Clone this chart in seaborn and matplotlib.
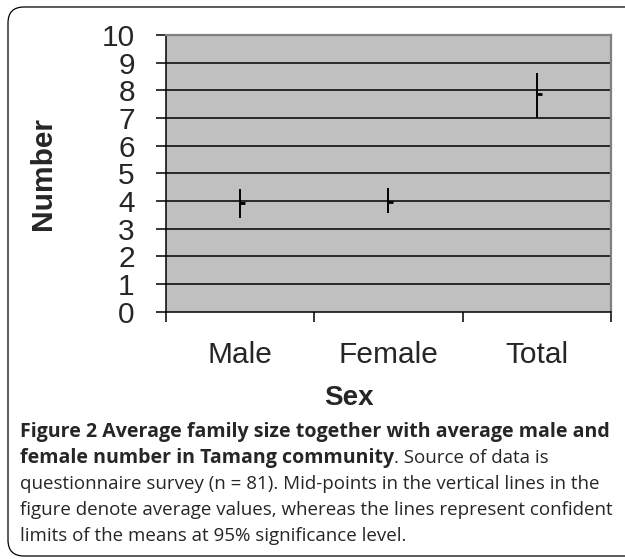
import matplotlib
matplotlib.use("Agg")
import matplotlib.pyplot as plt
from matplotlib.patches import FancyBboxPatch
import seaborn as sns
import pandas as pd

# ---- data ----
categories = ["Male", "Female", "Total"]
means = [3.94, 3.97, 7.86]
lower = [3.38, 3.57, 7.01]
upper = [4.42, 4.47, 8.64]
y_ticks = list(range(0, 11))
x_label = "Sex"
y_label = "Number"
caption_bold_1 = "Figure 2 Average family size together with average male and"
caption_bold_2 = "female number in Tamang community"
caption_rest_2 = ". Source of data is"
caption_lines = [
    "questionnaire survey (n = 81). Mid-points in the vertical lines in the",
    "figure denote average values, whereas the lines represent confident",
    "limits of the means at 95% significance level.",
]

df = pd.DataFrame({"Sex": categories, "mean": means, "lo": lower, "hi": upper})

sns.set_style("white")
plt.rcParams["font.family"] = ["Liberation Sans", "DejaVu Sans"]

W, H = 625, 559
fig = plt.figure(figsize=(W / 100, H / 100), dpi=100)
fig.patch.set_facecolor("white")

# rounded panel frame
frame = FancyBboxPatch((0.08, 0.03), 6.6, 5.49,
                       boxstyle="round,pad=0,rounding_size=0.16",
                       transform=fig.dpi_scale_trans, fill=False,
                       edgecolor="black", linewidth=0.9, zorder=0)
fig.patches.append(frame)

ax_l, ax_r, ax_t, ax_b = 165.7, 611.0, 35.0, 311.7
ax = fig.add_axes([ax_l / W, 1 - ax_b / H, (ax_r - ax_l) / W, (ax_b - ax_t) / H])
ax.set_facecolor("#C0C0C0")

# grid lines
for v in y_ticks[1:-1]:
    ax.axhline(v, color="black", linewidth=1.1, zorder=1)

# confidence ranges
ax.vlines(x=range(len(categories)), ymin=df["lo"], ymax=df["hi"],
          color="black", linewidth=1.4, zorder=3)
# means (right tick, like Excel high-low-close)
sns.scatterplot(data=df, x="Sex", y="mean", marker=1, s=14, color="black",
                linewidth=2.0, ax=ax, zorder=4, legend=False)

ax.set_xlim(-0.5, len(categories) - 0.5)
ax.set_ylim(0, 10)

# spines
for s in ["left", "bottom"]:
    ax.spines[s].set_color("black")
    ax.spines[s].set_linewidth(1.1)
for s in ["top", "right"]:
    ax.spines[s].set_color("#808080")
    ax.spines[s].set_linewidth(1.6)
ax.spines["bottom"].set_zorder(5)

# y ticks
ax.set_yticks(y_ticks)
ax.set_yticklabels([str(v) for v in y_ticks])
ax.tick_params(axis="y", direction="out", length=7.2, width=1.1, color="black",
               pad=15, labelsize=21.5, left=True)

# x ticks: separators as major ticks, labels on minor ticks
ax.set_xticks([i - 0.5 for i in range(len(categories) + 1)])
ax.set_xticklabels([""] * (len(categories) + 1))
ax.set_xticks(range(len(categories)), minor=True)
ax.set_xticklabels(categories, minor=True)
ax.tick_params(axis="x", which="major", direction="out", length=7.2, width=1.1,
               color="black", bottom=True)
ax.tick_params(axis="x", which="minor", length=0, pad=21, labelsize=21.5)

ax.set_xlabel(x_label, fontsize=20, fontweight="bold")
ax.xaxis.label.set_va("center")
ax.xaxis.set_label_coords((348.5 - ax_l) / (ax_r - ax_l), (ax_b - 398) / (ax_b - ax_t))
ax.set_ylabel(y_label, fontsize=21.5, fontweight="bold")
ax.yaxis.label.set_va("center")
ax.yaxis.set_label_coords((43 - ax_l) / (ax_r - ax_l), 0.5)

# caption
cap_font = ["Open Sans", "DejaVu Sans"]
bold_size = 14.1
reg_size = 13.5
x0 = 20 / W
base = [437, 463, 489, 515, 541]
fig.text(x0, 1 - base[0] / H, caption_bold_1, family=cap_font, fontsize=bold_size,
         fontweight="bold", va="baseline", ha="left")
t2 = fig.text(x0, 1 - base[1] / H, caption_bold_2, family=cap_font, fontsize=bold_size,
              fontweight="bold", va="baseline", ha="left")
fig.canvas.draw()
bb = t2.get_window_extent()
fig.text(bb.x1 / W, 1 - base[1] / H, caption_rest_2, family=cap_font, fontsize=reg_size,
         va="baseline", ha="left")
for i, line in enumerate(caption_lines):
    fig.text(x0, 1 - base[2 + i] / H, line, family=cap_font, fontsize=reg_size,
             va="baseline", ha="left")

fig.savefig("out.png", dpi=100)
